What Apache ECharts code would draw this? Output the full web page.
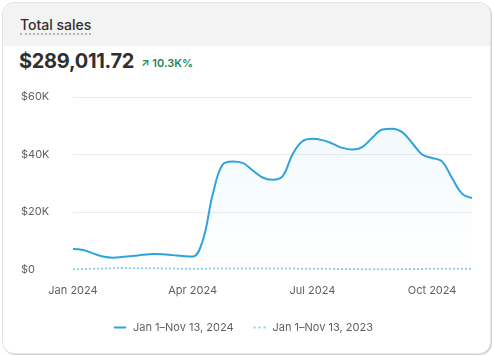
<!DOCTYPE html>
<html>
<head>
<meta charset="utf-8">
<script src="https://cdn.jsdelivr.net/npm/echarts@6/dist/echarts.min.js"></script>
<style>
  html, body { margin: 0; padding: 0; background: #ffffff; }
  body { width: 493px; height: 356px; position: relative; overflow: hidden; font-family: Inter, "Noto Sans", sans-serif; }
  #card { position: absolute; left: 2px; top: 2px; width: 487px; height: 350px; border: 1px solid #e3e3e3; border-radius: 12px; background: #fff; box-shadow: 1px 1px 0 #d4d4d4; overflow: hidden; }
  #head { position: absolute; left: 0; top: 0; right: 0; height: 43px; background: #f3f3f3; }
  #title { position: absolute; left: 17px; top: 13px; font-size: 14px; font-weight: 500; color: #303030; border-bottom: 2px dotted #b5b5b5; line-height: 17px; }
  #total { position: absolute; left: 16px; top: 46px; font-size: 20px; font-weight: 700; color: #303030; letter-spacing: -0.3px; }
  #delta { position: absolute; left: 138px; top: 53px; font-size: 11px; font-weight: 600; color: #29845a; }
  #chart { position: absolute; left: 0; top: 0; width: 493px; height: 356px; }
</style>
</head>
<body>
<div id="card"><div id="head"></div><div id="title">Total sales</div><div id="total">$289,011.72</div><div id="delta">&#8599; 10.3K%</div></div>
<div id="chart"></div>
<script>
// Months shown on the axis; each month is split into four periods of data
const months = ['Jan 2024','Feb 2024','Mar 2024','Apr 2024','May 2024','Jun 2024','Jul 2024','Aug 2024','Sep 2024','Oct 2024','Nov 2024'];
const periods = [];
months.forEach((m, i) => {
  if (i < months.length - 1) { for (let w = 1; w <= 4; w++) periods.push(m + ' #' + w); }
  else periods.push(m + ' #1');
});
// Total sales per period, 2024
const sales2024 = [
  7150, 6800, 5600, 4500,
  4100, 4400, 4700, 5100,
  5400, 5300, 5000, 4700,
  4500, 10000, 26000, 36500,
  37600, 37100, 34500, 32000,
  31200, 32400, 40000, 44600,
  45500, 45000, 43800, 42300,
  41700, 42600, 45800, 48700,
  49000, 47800, 44000, 40000,
  38800, 37600, 31800, 26400,
  24900
];
// Total sales per period, 2023
const sales2023 = [
  100, 150, 250, 350,
  450, 500, 450, 420,
  400, 380, 320, 280,
  250, 280, 320, 350,
  350, 340, 340, 350,
  350, 330, 310, 300,
  300, 270, 220, 170,
  150, 120, 100, 100,
  100, 120, 160, 200,
  250, 260, 260, 250,
  250
];
const yTicks = [0, 20000, 40000, 60000];
const seriesNames = ['Jan 1\u2013Nov 13, 2024', 'Jan 1\u2013Nov 13, 2023'];

const chart = echarts.init(document.getElementById('chart'), null, { renderer: 'canvas' });
const fontFamily = 'Inter, "Noto Sans", sans-serif';
chart.setOption({
  backgroundColor: 'transparent',
  animation: false,
  grid: { left: 73, right: 21, top: 97, bottom: 86.5, containLabel: false },
  legend: {
    left: 114, top: 322, padding: 0,
    itemWidth: 12, itemHeight: 2, itemGap: 20,
    textStyle: { color: '#616161', fontSize: 11, fontFamily: fontFamily, padding: [0, 0, 0, 2] },
    data: [
      { name: seriesNames[0], icon: 'path://M0,0H12V2H0Z' },
      { name: seriesNames[1], icon: 'path://M0,0H2V2H0Z M5,0H7V2H5Z M10,0H12V2H10Z' }
    ]
  },
  xAxis: {
    type: 'category',
    data: periods,
    boundaryGap: false,
    axisLine: { show: false },
    axisTick: { show: false },
    axisLabel: {
      interval: 11, color: '#616161', fontSize: 11, fontFamily: fontFamily, margin: 16,
      formatter: v => v.split(' #')[0]
    },
    splitLine: { show: false }
  },
  yAxis: {
    type: 'value',
    min: yTicks[0], max: yTicks[yTicks.length - 1], interval: yTicks[1] - yTicks[0],
    axisLine: { show: false },
    axisTick: { show: false },
    axisLabel: {
      align: 'left', margin: 52, color: '#616161', fontSize: 11, fontFamily: fontFamily,
      formatter: v => v === 0 ? '$0' : '$' + (v / 1000) + 'K'
    },
    splitLine: { lineStyle: { color: ['transparent', '#ebebeb', '#ebebeb', '#ebebeb'], width: 1 } }
  },
  series: [
    {
      name: seriesNames[0],
      type: 'line',
      data: sales2024,
      smooth: 0.4,
      symbol: 'none',
      lineStyle: { color: '#2ea3dd', width: 2 },
      itemStyle: { color: '#2ea3dd' },
      areaStyle: {
        color: new echarts.graphic.LinearGradient(0, 0, 0, 1, [
          { offset: 0, color: 'rgba(46,163,221,0.09)' },
          { offset: 1, color: 'rgba(46,163,221,0.0)' }
        ])
      },
      z: 3
    },
    {
      name: seriesNames[1],
      type: 'line',
      data: sales2023,
      smooth: 0.4,
      symbol: 'none',
      lineStyle: { color: '#8fcdee', width: 2, type: [2, 2] },
      itemStyle: { color: '#8fcdee' },
      z: 2
    }
  ]
});
</script>
</body>
</html>
